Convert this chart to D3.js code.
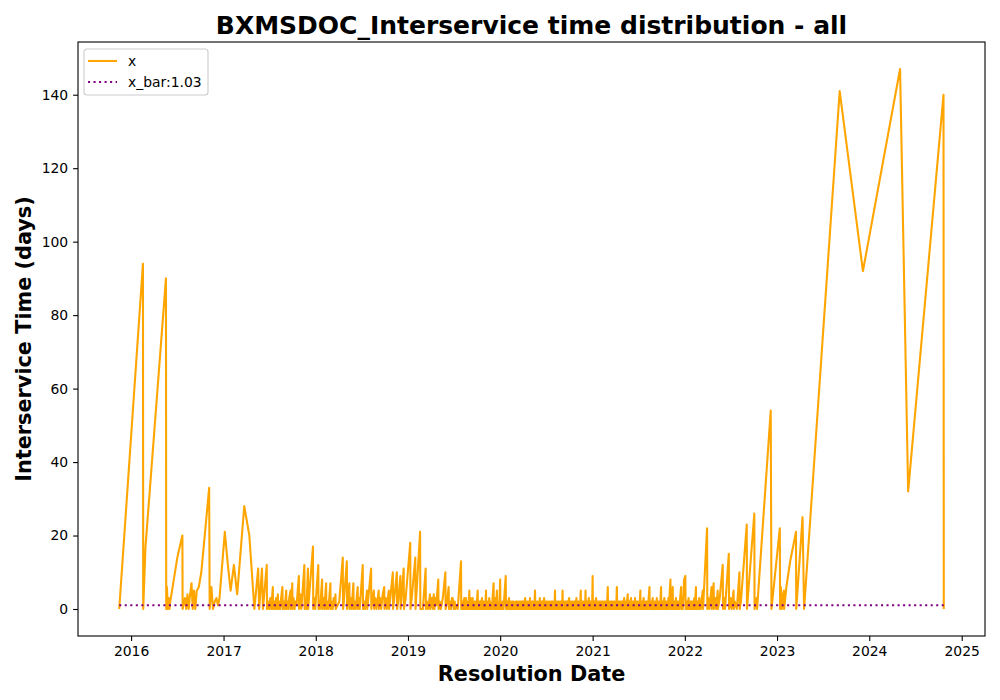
<!DOCTYPE html>
<html>
<head>
<meta charset="utf-8">
<script src="https://cdn.jsdelivr.net/npm/d3@7"></script>
<style>
  body { margin: 0; background: #fff; }
  svg { font-family: "DejaVu Sans", sans-serif; }
</style>
</head>
<body>
<div id="chart"></div>
<script>
// interservice time (days) per resolution date, grouped by year as [month-day, value]
const y2015 = [["11-15",0]];
const y2016 = [["02-17",94],["02-18",0],["02-27",17],["05-18",90],["05-19",0],["05-22",6],["05-25",0],["05-29",3],["06-01",0],["06-04",2],
  ["07-02",14],["07-22",20],["07-23",0],["08-01",3],["08-06",0],["08-11",4],["08-16",0],["08-20",3],["08-27",7],["09-01",0],["09-06",5],
  ["09-11",0],["09-17",5],["09-25",6],["10-05",10],["11-05",33],["11-07",0],["11-14",6],["11-20",0],["11-27",2],["12-04",3],["12-10",1],["12-16",3]];
const y2017 = [["01-06",21],["01-18",12],["01-29",5],["02-11",12],["02-24",4],["03-24",28],["04-13",20],["04-26",7],["05-03",0],["05-18",11],
  ["05-22",0],["06-02",11],["06-06",0],["06-21",12],["06-22",0],["06-27",2],["07-01",0],["07-05",3],["07-09",0],["07-15",6],["07-16",0],
  ["07-20",2],["07-24",0],["07-28",3],["07-31",0],["08-04",4],["08-05",0],["08-09",2],["08-13",0],["08-17",3],["08-22",6],["08-23",0],
  ["08-27",2],["08-31",0],["09-06",5],["09-07",0],["09-11",2],["09-15",0],["09-18",3],["09-23",5],["09-24",0],["09-30",7],["10-01",0],
  ["10-05",3],["10-09",0],["10-13",2],["10-17",1],["10-26",9],["10-27",0],["11-01",4],["11-05",0],["11-17",12],["11-18",0],["11-21",3],
  ["11-25",0],["12-01",11],["12-02",0],["12-04",2],["12-21",17],["12-22",0],["12-26",3],["12-30",0]];
const y2018 = [["01-11",12],["01-12",0],["01-15",2],["01-18",0],["01-26",8],["01-27",0],["02-01",3],["02-04",0],["02-11",7],["02-12",0],
  ["02-16",2],["02-20",0],["02-28",7],["03-01",0],["03-05",2],["03-09",0],["03-13",3],["03-16",1],["03-20",4],["03-21",0],["04-04",2],
  ["04-18",14],["04-19",0],["04-21",1],["05-04",13],["05-05",0],["05-14",7],["05-15",0],["05-20",3],["05-23",0],["05-30",7],["05-31",0],
  ["06-04",2],["06-08",0],["06-16",6],["06-17",0],["06-21",3],["06-24",0],["07-06",12],["07-07",0],["07-11",2],["07-15",0],["07-23",5],
  ["07-24",0],["07-28",3],["08-08",11],["08-09",0],["08-14",3],["08-19",5],["08-20",0],["08-25",3],["08-29",0],["09-02",2],["09-07",5],
  ["09-08",0],["09-13",3],["09-17",0],["09-23",4],["09-29",6],["09-30",0],["10-05",3],["10-09",0],["10-12",2],["10-17",5],["10-18",0],
  ["10-23",3],["11-02",10],["11-03",0],["11-08",3],["11-18",10],["11-19",0],["11-23",2],["12-02",9],["12-03",0],["12-04",1],["12-15",11],
  ["12-16",0],["12-23",3]];
const y2019 = [["01-10",18],["01-11",0],["01-16",3],["01-30",14],["01-31",0],["02-18",21],["02-19",0],["03-01",0],["03-12",11],["03-13",0],
  ["03-18",2],["03-22",0],["03-29",4],["03-30",0],["04-05",3],["04-09",0],["04-13",4],["04-16",0],["04-20",3],["04-23",1],["05-01",8],
  ["05-02",0],["05-07",2],["05-11",0],["05-19",3],["05-29",10],["05-30",0],["06-05",2],["06-11",6],["06-12",0],["06-16",2],["06-20",0],
  ["06-24",3],["06-27",3],["07-01",0],["07-05",2],["07-08",0],["07-12",1],["07-17",0],["07-30",13],["07-31",0],["08-02",2],["08-04",0],
  ["08-06",2],["08-08",0],["08-10",2],["08-12",3],["08-13",0],["08-15",2],["08-17",0],["08-19",3],["08-21",0],["08-23",2],["08-25",0],
  ["08-27",2],["08-29",0],["09-01",5],["09-02",0],["09-04",2],["09-06",3],["09-08",0],["09-10",2],["09-12",0],["09-14",3],["09-16",0],
  ["09-18",2],["09-20",0],["09-22",2],["09-24",0],["09-26",2],["09-28",0],["09-30",1],["10-04",5],["10-05",0],["10-07",2],["10-09",0],
  ["10-11",2],["10-13",0],["10-15",2],["10-17",0],["10-19",2],["10-21",3],["10-22",0],["10-24",2],["10-26",0],["10-28",2],["10-30",0],
  ["11-01",2],["11-03",0],["11-06",5],["11-07",0],["11-09",2],["11-11",0],["11-13",2],["11-15",0],["11-17",2],["11-19",3],["11-20",0],
  ["11-22",2],["11-24",0],["11-26",1],["11-29",0],["12-06",7],["12-07",0],["12-09",2],["12-11",3],["12-12",0],["12-14",2],["12-16",0],
  ["12-19",5],["12-20",0],["12-22",2],["12-24",0],["12-26",2],["12-28",0]];
const y2020 = [["01-01",8],["01-02",0],["01-04",2],["01-06",0],["01-08",1],["01-10",0],["01-12",2],["01-14",0],["01-23",9],["01-24",0],
  ["01-26",2],["01-28",0],["01-30",2],["02-01",0],["02-03",2],["02-05",3],["02-06",0],["02-08",2],["02-10",0],["02-12",2],["02-14",0],
  ["02-16",1],["02-18",2],["02-20",0],["02-22",2],["02-24",0],["02-26",1],["02-28",0],["03-01",2],["03-03",0],["03-05",2],["03-07",0],
  ["03-09",2],["03-11",0],["03-13",2],["03-15",0],["03-17",2],["03-19",0],["03-21",2],["03-23",2],["03-24",0],["03-26",2],["03-28",0],
  ["03-30",2],["04-01",0],["04-03",2],["04-05",0],["04-07",2],["04-09",3],["04-10",0],["04-12",2],["04-14",0],["04-16",2],["04-18",0],
  ["04-20",2],["04-22",0],["04-24",2],["04-26",0],["04-28",3],["04-29",0],["05-01",2],["05-03",0],["05-05",2],["05-07",0],["05-09",2],
  ["05-11",0],["05-13",2],["05-15",0],["05-18",5],["05-19",0],["05-21",2],["05-23",0],["05-25",2],["05-27",0],["05-29",2],["05-31",0],
  ["06-02",2],["06-04",0],["06-06",3],["06-07",0],["06-09",2],["06-11",0],["06-13",2],["06-15",0],["06-17",2],["06-19",0],["06-21",2],
  ["06-23",3],["06-24",0],["06-26",2],["06-28",0],["06-30",2],["07-02",0],["07-04",2],["07-06",0],["07-08",2],["07-10",0],["07-12",2],
  ["07-14",0],["07-16",2],["07-18",0],["07-20",2],["07-22",0],["07-24",2],["07-26",0],["07-28",2],["07-30",0],["08-01",2],["08-03",0],
  ["08-05",5],["08-06",0],["08-08",2],["08-10",0],["08-12",2],["08-14",0],["08-16",2],["08-18",0],["08-20",2],["08-22",0],["08-24",2],
  ["08-26",0],["08-28",2],["08-30",0],["09-01",2],["09-02",0],["09-04",5],["09-05",0],["09-07",2],["09-09",0],["09-11",2],["09-13",0],
  ["09-15",2],["09-17",0],["09-19",2],["09-21",0],["09-23",2],["09-25",0],["09-27",2],["09-30",3],["10-01",0],["10-03",2],["10-05",0],
  ["10-07",2],["10-09",0],["10-11",2],["10-13",0],["10-15",2],["10-17",0],["10-19",2],["10-21",0],["10-23",2],["10-25",0],["10-27",2],
  ["10-29",3],["10-30",0],["11-01",2],["11-03",0],["11-05",2],["11-07",0],["11-09",2],["11-11",0],["11-13",2],["11-15",5],["11-16",0],
  ["11-18",2],["11-20",0],["11-22",2],["11-24",0],["11-26",2],["11-28",0],["11-30",2],["12-02",0],["12-04",5],["12-05",0],["12-07",2],
  ["12-09",0],["12-11",2],["12-13",0],["12-15",2],["12-17",3],["12-18",0],["12-20",2],["12-22",0],["12-24",2],["12-26",0],["12-28",2],
  ["12-30",0]];
const y2021 = [["01-01",9],["01-02",0],["01-04",2],["01-06",0],["01-08",2],["01-10",0],["01-12",2],["01-15",3],["01-16",0],["01-18",2],
  ["01-20",0],["01-22",2],["01-24",0],["01-26",2],["01-28",0],["01-30",2],["02-01",0],["02-03",2],["02-05",0],["02-07",2],["02-09",0],
  ["02-11",2],["02-13",0],["02-15",2],["02-17",0],["02-19",2],["02-21",0],["02-23",2],["02-25",0],["02-27",1],["03-02",6],["03-03",0],
  ["03-05",2],["03-07",0],["03-09",2],["03-11",0],["03-13",2],["03-15",0],["03-17",2],["03-19",0],["03-21",2],["03-23",0],["03-25",2],
  ["03-27",0],["03-29",2],["03-31",0],["04-02",2],["04-04",0],["04-07",6],["04-08",0],["04-10",2],["04-12",0],["04-14",2],["04-16",0],
  ["04-18",2],["04-20",0],["04-22",2],["04-24",0],["04-26",2],["04-28",0],["04-30",2],["05-02",0],["05-04",2],["05-06",3],["05-07",0],
  ["05-09",2],["05-11",0],["05-13",2],["05-15",0],["05-17",2],["05-20",4],["05-21",0],["05-23",2],["05-25",0],["05-27",2],["05-29",0],
  ["05-31",2],["06-02",3],["06-03",0],["06-05",2],["06-07",0],["06-09",2],["06-11",0],["06-13",2],["06-15",0],["06-18",3],["06-19",0],
  ["06-21",2],["06-23",0],["06-25",2],["06-27",0],["06-29",2],["07-01",0],["07-03",2],["07-05",0],["07-07",2],["07-09",5],["07-10",0],
  ["07-12",2],["07-14",0],["07-16",2],["07-18",0],["07-20",2],["07-22",3],["07-23",0],["07-25",2],["07-27",0],["07-29",2],["07-31",0],
  ["08-02",2],["08-04",0],["08-06",2],["08-08",0],["08-10",2],["08-14",6],["08-15",0],["08-17",2],["08-19",0],["08-21",2],["08-23",0],
  ["08-25",2],["08-27",3],["08-28",0],["08-30",2],["09-01",0],["09-03",2],["09-05",0],["09-07",2],["09-09",0],["09-12",3],["09-13",0],
  ["09-15",2],["09-17",0],["09-19",2],["09-21",0],["09-23",2],["09-25",0],["09-29",6],["09-30",0],["10-02",2],["10-04",0],["10-06",2],
  ["10-08",0],["10-10",2],["10-12",3],["10-13",0],["10-15",2],["10-17",0],["10-19",2],["10-21",0],["10-23",2],["10-25",0],["10-28",3],
  ["10-29",0],["10-31",2],["11-05",8],["11-06",0],["11-08",2],["11-10",0],["11-14",6],["11-15",0],["11-17",2],["11-19",0],["11-21",2],
  ["11-23",0],["11-27",3],["11-28",0],["11-30",2],["12-02",0],["12-04",2],["12-06",0],["12-08",2],["12-10",0],["12-17",6],["12-18",0],
  ["12-20",2],["12-23",3],["12-24",0],["12-29",8]];
const y2022 = [["01-03",9],["01-04",0],["01-06",2],["01-08",0],["01-10",2],["01-12",0],["01-14",2],["01-16",3],["01-17",0],["01-20",2],
  ["01-22",0],["01-24",2],["01-26",0],["01-28",2],["01-30",0],["02-01",2],["02-03",0],["02-05",2],["02-08",3],["02-09",0],["02-14",6],
  ["02-15",0],["02-17",2],["02-19",0],["02-21",2],["02-23",0],["02-27",3],["03-01",0],["03-03",2],["03-05",0],["03-07",2],["03-13",5],
  ["03-14",0],["03-30",22],["03-31",0],["04-04",3],["04-08",0],["04-11",2],["04-17",6],["04-18",0],["04-25",7],["04-26",0],["05-01",3],
  ["05-05",0],["05-11",5],["05-12",0],["05-19",3],["05-31",12],["06-01",0],["06-05",3],["06-09",0],["06-24",15],["06-25",0],["07-01",3],
  ["07-05",0],["07-08",2],["07-13",5],["07-14",0],["07-18",2],["07-26",0],["08-05",10],["08-06",0],["08-11",2],["09-03",23],["09-04",0],
  ["10-03",26],["10-04",0],["10-08",2],["10-12",3],["10-14",0],["12-07",54],["12-10",0]];
const y2023 = [["01-12",22],["01-13",0],["01-16",6],["01-20",0],["01-23",3],["01-28",5],["01-29",0],["02-07",6],["02-22",13],["03-17",21],
  ["03-18",0],["04-12",25],["04-18",0],["09-06",141],["12-07",92]];
const y2024 = [["05-02",147],["06-03",32],["10-21",140],["10-22",0]];

const years = [[2015, y2015], [2016, y2016], [2017, y2017], [2018, y2018], [2019, y2019],
  [2020, y2020], [2021, y2021], [2022, y2022], [2023, y2023], [2024, y2024]];
const xBar = 1.03;
const yTicks = [0, 20, 40, 60, 80, 100, 120, 140];
const xTickYears = [2016, 2017, 2018, 2019, 2020, 2021, 2022, 2023, 2024, 2025];

const parseDate = d3.timeParse("%Y-%m-%d");
const data = [];
years.forEach(([yr, rows]) => {
    rows.forEach(([md, v]) => data.push({ date: parseDate(`${yr}-${md}`), value: v }));
});

function draw() {
    const width = 1000, height = 700;
    const margin = { top: 42, right: 15, bottom: 64, left: 78 };
    const innerW = width - margin.left - margin.right;
    const innerH = height - margin.top - margin.bottom;

    const svg = d3.select("#chart").append("svg")
        .attr("width", width)
        .attr("height", height);

    // matplotlib-style 5% padding around the data
    const [dMin, dMax] = d3.extent(data, d => d.date);
    const padT = (dMax - dMin) * 0.05;
    const x = d3.scaleTime()
        .domain([new Date(+dMin - padT), new Date(+dMax + padT)])
        .range([0, innerW]);

    const vMax = d3.max(data, d => d.value);
    const y = d3.scaleLinear()
        .domain([-vMax * 0.05, vMax * 1.05])
        .range([innerH, 0]);

    const g = svg.append("g").attr("transform", `translate(${margin.left},${margin.top})`);

    const line = d3.line().x(d => x(d.date)).y(d => y(d.value));

    g.append("path")
        .datum(data)
        .attr("fill", "none")
        .attr("stroke", "#FFA500")
        .attr("stroke-width", 2.08)
        .attr("stroke-linejoin", "round")
        .attr("d", line);

    g.append("line")
        .attr("x1", x(dMin)).attr("x2", x(dMax))
        .attr("y1", y(xBar)).attr("y2", y(xBar))
        .attr("stroke", "purple")
        .attr("stroke-width", 2.08)
        .attr("stroke-dasharray", "2.08,3.44");

    // axes
    const xAxis = d3.axisBottom(x)
        .tickValues(xTickYears.map(yr => new Date(yr, 0, 1)))
        .tickFormat(d3.timeFormat("%Y"))
        .tickSizeOuter(0).tickSize(4.9).tickPadding(4.9);
    const yAxis = d3.axisLeft(y)
        .tickValues(yTicks)
        .tickSizeOuter(0).tickSize(4.9).tickPadding(4.9);

    const gx = g.append("g").attr("transform", `translate(0,${innerH})`).call(xAxis);
    const gy = g.append("g").call(yAxis);
    [gx, gy].forEach(ax => {
        ax.select(".domain").remove();
        ax.selectAll("line").attr("stroke", "#000").attr("stroke-width", 1.1);
        ax.selectAll("text").attr("fill", "#000")
            .style("font-family", "DejaVu Sans").style("font-size", "13.9px");
    });

    g.append("rect")
        .attr("width", innerW).attr("height", innerH)
        .attr("fill", "none").attr("stroke", "#000").attr("stroke-width", 1.1);

    // titles
    svg.append("text")
        .attr("x", margin.left + innerW / 2).attr("y", 34)
        .attr("text-anchor", "middle")
        .style("font-size", "25px").style("font-weight", "bold")
        .text("BXMSDOC_Interservice time distribution - all");

    svg.append("text")
        .attr("x", margin.left + innerW / 2).attr("y", 681)
        .attr("text-anchor", "middle")
        .style("font-size", "20.8px").style("font-weight", "bold")
        .text("Resolution Date");

    svg.append("text")
        .attr("transform", `translate(31,${margin.top + innerH / 2}) rotate(-90)`)
        .attr("text-anchor", "middle")
        .style("font-size", "20.8px").style("font-weight", "bold")
        .text("Interservice Time (days)");

    // legend
    const legend = svg.append("g").attr("transform", "translate(84,49)");
    legend.append("rect")
        .attr("width", 124).attr("height", 46).attr("rx", 3)
        .attr("fill", "#fff").attr("fill-opacity", 0.8)
        .attr("stroke", "#ccc").attr("stroke-width", 1.1);
    const items = [
        { label: "x", color: "#FFA500", dash: null },
        { label: `x_bar:${xBar}`, color: "purple", dash: "2.08,3.44" }
    ];
    items.forEach((it, i) => {
        const yy = 12 + i * 21;
        legend.append("line")
            .attr("x1", 4).attr("x2", 33).attr("y1", yy).attr("y2", yy)
            .attr("stroke", it.color).attr("stroke-width", 2.08)
            .attr("stroke-dasharray", it.dash);
        legend.append("text")
            .attr("x", 44).attr("y", yy + 5)
            .style("font-size", "13.9px")
            .text(it.label);
    });
}

window.addEventListener("load", draw);
</script>
</body>
</html>
